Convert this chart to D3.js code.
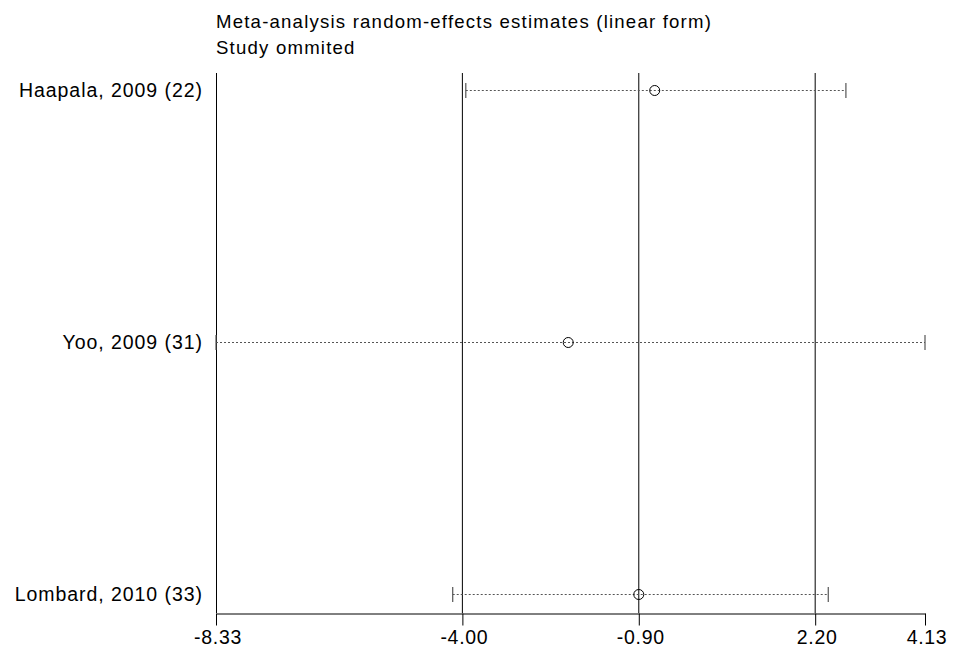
<!DOCTYPE html>
<html><head><meta charset="utf-8">
<script src="https://cdn.jsdelivr.net/npm/d3@7"></script>
<style>body{margin:0;background:#fff}svg{display:block;font-family:"Liberation Sans",Arial,sans-serif}</style>
</head><body><svg id="c" width="955" height="654"></svg>
<script>
const studies = ["Haapala, 2009 (22)", "Yoo, 2009 (31)", "Lombard, 2010 (33)"];
const estimates = [-0.62, -2.14, -0.90];
const lower = [-3.94, -8.33, -4.17];
const upper = [2.74, 4.13, 2.43];
const tickValues = [-8.33, -4.00, -0.90, 2.20, 4.13];
const refLines = [-4.00, -0.90, 2.20];
const titleLines = ["Meta-analysis random-effects estimates (linear form)", "Study ommited"];

const svg = d3.select("#c");
const x = d3.scaleLinear().domain([-8.33, 4.13]).range([216, 925]);
const y = d3.scalePoint().domain(studies).range([90, 594]);
const axisY = 613, topY = 73;
const FF = '"Liberation Sans",Arial,sans-serif';

// title
svg.selectAll("text.title").data(titleLines).join("text")
  .attr("x", 216).attr("y", (d, i) => 28.3 + i * 26)
  .attr("font-size", 18.6).attr("letter-spacing", 1.2).attr("fill", "#000").text(d => d);

// left axis line
svg.append("line").attr("x1", 216.5).attr("x2", 216.5).attr("y1", topY).attr("y2", axisY)
  .attr("stroke", "#000");

// reference lines
svg.selectAll("line.ref").data(refLines).join("line")
  .attr("x1", d => x(d)).attr("x2", d => x(d)).attr("y1", topY).attr("y2", axisY)
  .attr("stroke", "#000").attr("stroke-width", 1);

// x axis
const fmt = d3.format(".2f");
const xAxis = d3.axisBottom(x).tickValues(tickValues)
  .tickFormat(d => fmt(d).replace("\u2212", "-"))
  .tickSize(12).tickSizeOuter(0);
const gx = svg.append("g").attr("transform", `translate(0,${axisY + 0.5})`).call(xAxis);
gx.select(".domain").attr("stroke", "#000");
gx.selectAll(".tick line").attr("stroke", "#000");
gx.selectAll(".tick text").attr("font-size", 19.5).attr("letter-spacing", 0.7).attr("fill", "#000")
  .attr("font-family", FF).attr("y", 30).attr("dy", 0).attr("dx", 1.5);

// study labels
svg.selectAll("text.lab").data(studies).join("text")
  .attr("x", 203).attr("y", d => y(d) + 6.7)
  .attr("text-anchor", "end").attr("font-size", 19.5).attr("letter-spacing", 0.95)
  .attr("fill", "#000").text(d => d);

const rows = studies.map((s, i) => ({s, est: estimates[i], lo: lower[i], hi: upper[i]}));

// CI dotted lines
svg.selectAll("line.ci").data(rows).join("line")
  .attr("x1", d => x(d.lo)).attr("x2", d => x(d.hi))
  .attr("y1", d => y(d.s) + 0.5).attr("y2", d => y(d.s) + 0.5)
  .attr("stroke", "#555").attr("stroke-width", 1).attr("stroke-dasharray", "2,2");

// caps
["lo", "hi"].forEach(k => {
  svg.selectAll("line.cap" + k).data(rows).join("line")
    .attr("x1", d => x(d[k])).attr("x2", d => x(d[k]))
    .attr("y1", d => y(d.s) - 7).attr("y2", d => y(d.s) + 8)
    .attr("stroke", "#555").attr("stroke-width", 1.2);
});

// points
svg.selectAll("circle.pt").data(rows).join("circle")
  .attr("cx", d => x(d.est)).attr("cy", d => y(d.s) + 0.5).attr("r", 5)
  .attr("fill", "none").attr("stroke", "#000").attr("stroke-width", 1);
</script></body></html>
